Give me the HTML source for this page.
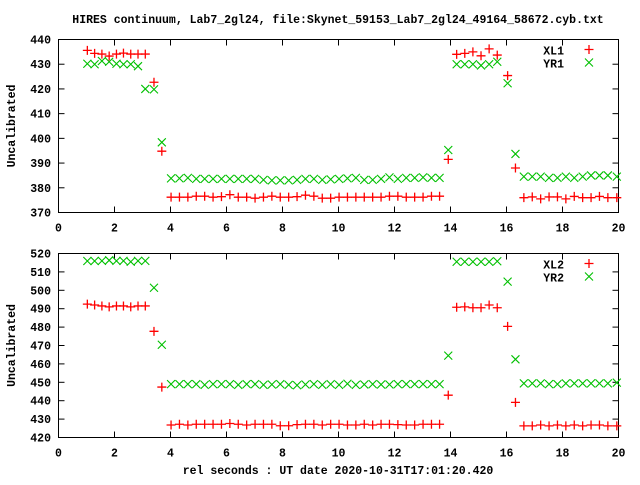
<!DOCTYPE html>
<html><head><meta charset="utf-8"><style>
body{margin:0;background:#fff}
svg text{font-family:"Liberation Mono",monospace;font-weight:bold;font-size:11.5px;fill:#000}
</style></head><body>
<svg id="chart" width="640" height="480" xmlns="http://www.w3.org/2000/svg">
<rect width="640" height="480" fill="#fff"/>
<text x="338" y="23" text-anchor="middle">HIRES continuum, Lab7_2gl24, file:Skynet_59153_Lab7_2gl24_49164_58672.cyb.txt</text>
<text x="338" y="474" text-anchor="middle">rel seconds : UT date 2020-10-31T17:01:20.420</text>
<g id="g"></g>
</svg>
<script>
const xs=[1.03,1.29,1.55,1.81,2.07,2.32,2.58,2.84,3.10,3.41,3.69,
4.02,4.32,4.62,4.92,5.22,5.52,5.82,6.12,6.42,6.72,7.02,7.32,7.62,7.92,8.22,8.52,8.82,9.12,9.42,9.72,10.02,10.32,10.62,10.92,11.22,11.52,11.82,12.12,12.42,12.72,13.02,13.32,13.61,
13.92,14.22,14.51,14.80,15.09,15.38,15.67,16.04,16.32,
16.62,16.92,17.22,17.52,17.82,18.12,18.42,18.72,19.02,19.32,19.62,19.94];
const xl1=[435.6,434.4,434.1,433.3,434.1,434.5,434.1,434.1,434.1,422.7,394.8,
376.2,376.2,376.2,376.6,376.6,376.2,376.4,377.2,376.2,376.2,375.8,376.2,376.6,376.2,376.2,376.4,377,376.6,375.8,375.8,376.2,376.2,376.2,376.2,376.2,376.2,376.6,376.6,376.2,376.2,376.2,376.6,376.6,
391.5,434,434.4,435,433.4,436.2,433.7,425.4,388,
376,376.3,375.5,376.3,376.3,375.5,376.5,376,376,376.5,376,376];
const yr1=[430.2,430,431.3,431,430.2,430,430,429.2,420,419.8,398.4,
383.8,383.8,384,383.6,383.6,383.6,383.6,383.6,383.6,383.6,383.6,383.2,383,383,383,383.2,383.6,383.6,383.2,383.4,383.6,383.8,384,383.2,383.2,383.6,384.2,383.6,384,384,384.2,384,384,
395.3,430,430,430,429.5,430,431,422.3,393.7,
384.5,384.5,384.5,384,384,384.5,384,384.5,385,385,385,384.5];
const xl2=[492.5,492,491.5,491,491.5,491.5,491,491.5,491.5,477.7,447.4,
426.8,427.2,426.8,427.2,427.2,427.2,427.2,427.6,427.2,426.8,427.2,427.2,427.2,426.4,426.4,427,427.2,427.2,426.8,427.2,427.2,426.8,426.8,427.2,426.8,427.2,427.2,427,426.8,426.8,427.2,427.2,427.2,
443,490.8,491,490.5,490.5,492,490.5,480.4,439.1,
426.3,426.3,426.8,426.3,426.8,426.3,426.8,426.3,426.8,426.8,426.3,426.3];
const yr2=[515.9,515.9,516,516.3,516,516,515.5,516,516,501.4,470.4,
449,449,449,449,448.6,449,449,449,448.6,449,449,448.6,448.8,449,448.6,448.4,448.8,449,448.6,449,448.6,449.2,448.6,448.8,449,448.8,448.8,449,449,449,449,449,449,
464.5,515.5,515.5,515.5,515.5,515.5,515.8,504.7,462.5,
449.4,449.4,449.4,449,449,449.4,449.4,449.4,449.4,449.4,449.4,449.8];
const xTicks=[0,2,4,6,8,10,12,14,16,18,20];
const yTicks1=[370,380,390,400,410,420,430,440];
const yTicks2=[420,430,440,450,460,470,480,490,500,510,520];
const labels1=["XL1","YR1"], labels2=["XL2","YR2"];
const NS="http://www.w3.org/2000/svg", g=document.getElementById('g');
function mk(t,a,p){const e=document.createElementNS(NS,t);for(const k in a)e.setAttribute(k,a[k]);(p||g).appendChild(e);return e;}
const L=58.5,R=618.5;
function sx(v){return L+(v-0)/(20-0)*(R-L);}
function panel(name,top,bot,ymin,ymax,yt,s1,s2,labs){
  const pg=mk('g',{});
  
  
  const sy=v=>bot-(v-ymin)/(ymax-ymin)*(bot-top);
  const fr=mk('rect',{x:L,y:top,width:R-L,height:bot-top,fill:'none',stroke:'#000','stroke-width':1},pg);
  
  
  xTicks.forEach(t=>{const x=sx(t);
    mk('line',{x1:x,y1:bot,x2:x,y2:bot-6,stroke:'#000'},pg);
    mk('line',{x1:x,y1:top,x2:x,y2:top+6,stroke:'#000'},pg);
    const tx=mk('text',{x:x,y:bot+19,'text-anchor':'middle'},pg);tx.textContent=t;
    
    });
  yt.forEach(t=>{const y=sy(t);
    mk('line',{x1:L,y1:y,x2:L+6,y2:y,stroke:'#000'},pg);
    mk('line',{x1:R,y1:y,x2:R-6,y2:y,stroke:'#000'},pg);
    const tx=mk('text',{x:51,y:y+4,'text-anchor':'end'},pg);tx.textContent=t;
    
    });
  const yt2=mk('text',{x:15,y:(top+bot)/2,'text-anchor':'middle',transform:`rotate(-90 15 ${(top+bot)/2})`},pg);
  yt2.textContent='Uncalibrated';
  
  
  function plus(x,y,p){mk('path',{d:`M${x-4.5} ${y}H${x+4.5}M${x} ${y-4.5}V${y+4.5}`,stroke:'#ff0000','stroke-width':1.3,fill:'none'},p);}
  function cross(x,y,p){mk('path',{d:`M${x-4} ${y-4}L${x+4} ${y+4}M${x-4} ${y+4}L${x+4} ${y-4}`,stroke:'#00c000','stroke-width':1.1,fill:'none'},p);}
  const g1=mk('g',{},pg);
  
  
  const g2=mk('g',{},pg);
  
  
  xs.forEach((xv,i)=>{plus(sx(xv),sy(s1[i]),g1);cross(sx(xv),sy(s2[i]),g2);});
  const lg=mk('g',{},pg);
  
  
  const a=mk('text',{x:564,y:top+15,'text-anchor':'end'},lg);a.textContent=labs[0];
  
  
  const b=mk('text',{x:564,y:top+28,'text-anchor':'end'},lg);b.textContent=labs[1];
  
  
  plus(589,top+10,lg);cross(589,top+23,lg);
}
panel('top-panel',39.5,212.5,370,440,yTicks1,xl1,yr1,labels1);
panel('bottom-panel',253.5,437.5,420,520,yTicks2,xl2,yr2,labels2);
</script>
</body></html>
